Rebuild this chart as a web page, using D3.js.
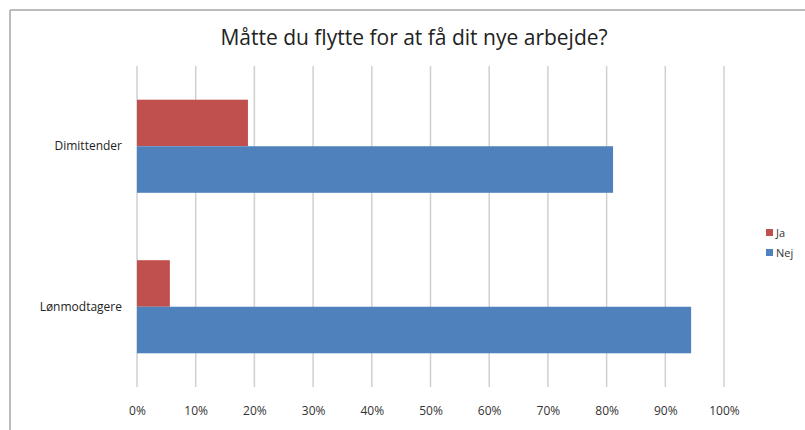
<!DOCTYPE html>
<html>
<head>
<meta charset="utf-8">
<script src="https://cdn.jsdelivr.net/npm/d3@7"></script>
<style>
  body { margin: 0; background: #fff; }
  svg { display: block; font-family: "Open Sans", "DejaVu Sans", sans-serif; }
</style>
</head>
<body>
<svg id="chart" width="805" height="430"></svg>
<script>
// data
const categories = ["Dimittender", "Lønmodtagere"];
const seriesNames = ["Ja", "Nej"];
const jaValues = [0.189, 0.056];
const nejValues = [0.811, 0.944];
const tickValues = [0, 0.1, 0.2, 0.3, 0.4, 0.5, 0.6, 0.7, 0.8, 0.9, 1.0];
const colors = ["#c0504d", "#4f81bd"];

const svg = d3.select("#chart");

// outer frame (only top and left edges show)
svg.append("line").attr("x1", 10).attr("x2", 805).attr("y1", 10).attr("y2", 10)
  .attr("stroke", "#a6a6a6").attr("stroke-width", 1.5);
svg.append("line").attr("x1", 10).attr("x2", 10).attr("y1", 10).attr("y2", 430)
  .attr("stroke", "#a6a6a6").attr("stroke-width", 1.5);

// title
svg.append("text")
  .attr("x", 414).attr("y", 45)
  .attr("text-anchor", "middle")
  .attr("font-size", 21)
  .attr("fill", "#222")
  .text("Måtte du flytte for at få dit nye arbejde?");

const plot = { left: 137, right: 724, top: 66, bottom: 387 };

const x = d3.scaleLinear().domain([0, 1]).range([plot.left, plot.right]);
const y = d3.scaleBand().domain(categories).range([plot.top, plot.bottom]).paddingInner(0.42).paddingOuter(0.21);
const ySeries = d3.scaleBand().domain(seriesNames).range([0, y.bandwidth()]);

// gridlines
svg.append("g")
  .selectAll("line")
  .data(tickValues)
  .join("line")
  .attr("x1", d => x(d)).attr("x2", d => x(d))
  .attr("y1", plot.top).attr("y2", plot.bottom)
  .attr("stroke", "#d0d0d0")
  .attr("stroke-width", 1.5);

// x axis labels
const xAxis = d3.axisBottom(x).tickValues(tickValues).tickFormat(d3.format(".0%")).tickSize(0).tickPadding(19);
const xg = svg.append("g").attr("transform", `translate(0,${plot.bottom})`).call(xAxis);
xg.select(".domain").remove();
xg.selectAll("text").attr("font-size", 12).attr("fill", "#333").attr("font-family", "Open Sans, sans-serif");

// category labels
const yAxis = d3.axisLeft(y).tickSize(0).tickPadding(15);
const yg = svg.append("g").attr("transform", `translate(${plot.left},0)`).call(yAxis);
yg.select(".domain").remove();
yg.selectAll("text").attr("font-size", 12).attr("fill", "#222").attr("font-family", "Open Sans, sans-serif");

// bars
const rows = categories.map((c, i) => ({ cat: c, values: [jaValues[i], nejValues[i]] }));
const groups = svg.append("g").selectAll("g")
  .data(rows)
  .join("g")
  .attr("transform", d => `translate(0,${y(d.cat)})`);

groups.selectAll("rect")
  .data(d => d.values.map((v, j) => ({ name: seriesNames[j], value: v, color: colors[j] })))
  .join("rect")
  .attr("x", x(0))
  .attr("y", d => ySeries(d.name))
  .attr("width", d => x(d.value) - x(0))
  .attr("height", ySeries.bandwidth())
  .attr("fill", d => d.color);

// legend
const legend = svg.append("g").attr("transform", "translate(766,233)");
const items = legend.selectAll("g")
  .data(seriesNames)
  .join("g")
  .attr("transform", (d, i) => `translate(0,${i * 20})`);
items.append("rect").attr("x", 0).attr("y", -4).attr("width", 7).attr("height", 7)
  .attr("fill", (d, i) => colors[i]);
items.append("text").attr("x", 10).attr("y", 0).attr("dy", "0.35em")
  .attr("font-size", 11).attr("fill", "#333").text(d => d);
</script>
</body>
</html>
